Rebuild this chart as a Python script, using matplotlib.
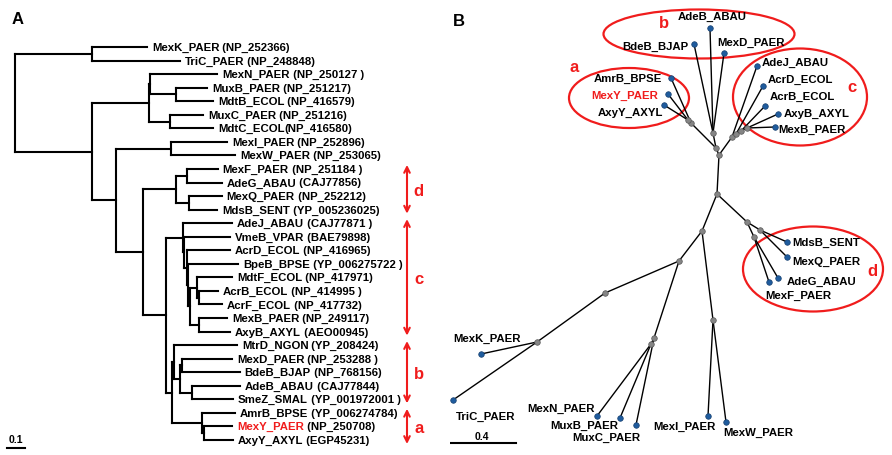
import matplotlib
matplotlib.use("Agg")
import matplotlib.pyplot as plt
from matplotlib.collections import LineCollection
from matplotlib.patches import Ellipse

plt.rcParams['font.family'] = ['Liberation Sans', 'DejaVu Sans']
plt.rcParams['font.weight'] = 'bold'

RED = '#f01c1c'
BLUE = '#1f5c9e'
GRAY = '#858585'
FS = 8.2

# ---------------- panel A data: rectangular tree ----------------
leaf_names = ["MexK_PAER", "TriC_PAER", "MexN_PAER", "MuxB_PAER", "MdtB_ECOL",
              "MuxC_PAER", "MdtC_ECOL", "MexI_PAER", "MexW_PAER", "MexF_PAER",
              "AdeG_ABAU", "MexQ_PAER", "MdsB_SENT", "AdeJ_ABAU", "VmeB_VPAR",
              "AcrD_ECOL", "BpeB_BPSE", "MdtF_ECOL", "AcrB_ECOL", "AcrF_ECOL",
              "MexB_PAER", "AxyB_AXYL", "MtrD_NGON", "MexD_PAER", "BdeB_BJAP",
              "AdeB_ABAU", "SmeZ_SMAL", "AmrB_BPSE", "MexY_PAER", "AxyY_AXYL"]
leaf_acc = [" (NP_252366)", " (NP_248848)", " (NP_250127 )", " (NP_251217)", " (NP_416579)",
            " (NP_251216)", "(NP_416580)", " (NP_252896)", " (NP_253065)", " (NP_251184 )",
            " (CAJ77856)", " (NP_252212)", " (YP_005236025)", " (CAJ77871 )", " (BAE79898)",
            " (NP_416965)", " (YP_006275722 )", " (NP_417971)", " (NP_414995 )", " (NP_417732)",
            " (NP_249117)", " (AEO00945)", " (YP_208424)", " (NP_253288 )", " (NP_768156)",
            " (CAJ77844)", " (YP_001972001 )", " (YP_006274784)", " (NP_250708)", " (EGP45231)"]
leaf_parent = ["K", "K", "N1", "MB", "MB", "MC", "MC", "IW", "IW", "FG",
               "FG", "QS", "QS", "c", "c1", "c2", "c3", "c5", "c6", "c6",
               "c7", "c7", "b", "b2", "b2", "b3", "b3", "a", "a1", "a1"]
leaf_length = [.306, .489, .372, .172, .206, .183, .239, .311, .356, .172,
               .194, .183, .156, .272, .256, .239, .278, .194, .106, .128,
               .156, .172, .350, .278, .322, .267, .228, .183, .156, .161]

clades = ["root", "K", "L", "N", "N1", "MB", "MC", "M", "IW", "D2", "d", "FG", "QS", "R",
          "c", "c1", "c2", "c3", "c4", "c5", "c6", "c7", "ba", "b", "b1", "b2", "b3", "a", "a1"]
clade_parent = [None, "root", "root", "L", "N", "N1", "N", "L", "M", "M", "D2", "d", "d", "D2",
                "R", "c", "c1", "c2", "c3", "c4", "c5", "c4", "R", "ba", "b", "b1", "b1", "ba", "a"]
clade_length = [0, .428, .428, .317, .006, .144, .117, .133, .306, .150, .183, .061, .072, .128,
                .094, .006, .017, .006, .011, .039, .011, .050, .033, .011, .033, .011, .067, .167, .011]

highlight = "MexY_PAER"
group_letters = ["d", "c", "b", "a"]
group_first = [9, 13, 22, 27]
group_last = [12, 21, 26, 29]

# ---------------- panel B data: unrooted tree layout ----------------
b_ids = ["a", "a1", "b", "ab", "abc", "c0", "c1", "c2", "c3", "r", "d0", "dQS", "dFG",
         "L", "IW", "K2", "N", "N2", "KT1", "KT2",
         "AdeB_ABAU", "BdeB_BJAP", "MexD_PAER", "AmrB_BPSE", "MexY_PAER", "AxyY_AXYL",
         "AdeJ_ABAU", "AcrD_ECOL", "AcrB_ECOL", "AxyB_AXYL", "MexB_PAER",
         "MdsB_SENT", "MexQ_PAER", "AdeG_ABAU", "MexF_PAER", "MexI_PAER", "MexW_PAER",
         "MexN_PAER", "MuxB_PAER", "MuxC_PAER", "MexK_PAER", "TriC_PAER"]
b_x = [691, 688, 713, 716, 719, 732, 736, 741, 747, 717, 747, 760, 754,
       702, 713, 679, 654, 651, 605, 537,
       710, 694, 724, 671, 668, 664,
       757, 763, 765, 778, 775,
       787, 787, 778, 769, 708, 726,
       597, 620, 636, 481, 453]
b_y = [124, 121, 134, 149, 156, 138, 135, 132, 129, 195, 223, 231, 238,
       232, 321, 262, 339, 345, 294, 343,
       29, 45, 54, 79, 95, 106,
       67, 87, 107, 115, 128,
       243, 258, 279, 283, 417, 423,
       417, 419, 426, 355, 401]
b_parent = ["ab", "a", "ab", "abc", "r", "abc", "c0", "c1", "c2", "", "r", "d0", "d0",
            "r", "L", "L", "K2", "N", "K2", "KT1",
            "b", "b", "b", "a", "a1", "a1",
            "c0", "c1", "c2", "c3", "c3",
            "dQS", "dQS", "dFG", "dFG", "IW", "IW",
            "N2", "N2", "N", "KT2", "KT2"]
n_internal = 20

b_label_x = [712, 688, 717, 662, 658, 663, 762, 768, 770, 784, 778,
             792, 792, 787, 765, 653, 723, 527, 550, 572, 453, 456]
b_label_y = [17, 47, 43, 79, 96, 113, 63, 80, 97, 114, 130,
             243, 262, 282, 296, 427, 433, 409, 426, 438, 339, 417]
b_label_ha = ["center", "right", "left", "right", "right", "right", "left", "left", "left", "left", "left",
              "left", "left", "left", "left", "left", "left", "left", "left", "left", "left", "left"]

ell_letters = ["a", "b", "c", "d"]
ell_cx = [629, 699, 800, 813]
ell_cy = [99, 35, 98, 270]
ell_w = [120, 191, 134, 140]
ell_h = [60, 49, 97, 85]
ell_letter_x = [574, 664, 852, 872]
ell_letter_y = [68, 24, 88, 272]

B_UNITS_PER_DIST = 172.5

fig = plt.figure(figsize=(8.92, 4.56), dpi=100)

# ---------------- panel A ----------------
axA = fig.add_axes([0, 0, 450 / 892, 1])
axA.set_xlim(-15 / 180, 435 / 180)
axA.set_ylim((456 - 48) / 13.55, -48 / 13.55)
axA.axis('off')

depth = {}
for cl, par, ln in zip(clades, clade_parent, clade_length):
    depth[cl] = 0.0 if par is None else depth[par] + ln
leaf_depth = [depth[p] + ln for p, ln in zip(leaf_parent, leaf_length)]

children = {cl: [] for cl in clades}
for i, p in enumerate(leaf_parent):
    children[p].append(('leaf', i))
for cl, p in zip(clades, clade_parent):
    if p is not None:
        children[p].append(('clade', cl))
ypos = {}
for cl in reversed(clades):
    ys = [ref if kind == 'leaf' else ypos[ref] for kind, ref in children[cl]]
    ypos[cl] = (min(ys) + max(ys)) / 2

segs = []
for cl, p in zip(clades, clade_parent):
    ys = [ref if kind == 'leaf' else ypos[ref] for kind, ref in children[cl]]
    segs.append([(depth[cl], min(ys)), (depth[cl], max(ys))])
    if p is not None:
        segs.append([(depth[p], ypos[cl]), (depth[cl], ypos[cl])])
for i, p in enumerate(leaf_parent):
    segs.append([(depth[p], i), (leaf_depth[i], i)])
axA.add_collection(LineCollection(segs, colors='black', linewidths=1.5, capstyle='projecting'))

for i, name in enumerate(leaf_names):
    t = axA.annotate(name, (leaf_depth[i], i), xytext=(3.5, 0), textcoords='offset points',
                     va='center', ha='left', fontsize=FS,
                     color=RED if name == highlight else 'black')
    axA.annotate(leaf_acc[i], xy=(1, 0.5), xycoords=t, va='center', ha='left', fontsize=FS)

arrow_x = 392 / 180
for letter, g0, g1 in zip(group_letters, group_first, group_last):
    axA.annotate('', xy=(arrow_x, g0 - 0.3), xytext=(arrow_x, g1 + 0.3),
                 arrowprops=dict(arrowstyle='<->', color=RED, lw=1.5,
                                 shrinkA=0, shrinkB=0, mutation_scale=10))
    axA.text(arrow_x + 0.065, (g0 + g1) / 2 + 0.1, letter, color=RED, fontsize=12,
             va='center', ha='center')

axA.plot([-0.044, -0.044 + 0.1], [29.6, 29.6], color='black', lw=1.5)
axA.text(-0.044 + 0.05, 28.95, "0.1", fontsize=7.5, ha='center', va='center')
axA.text(0.012, (20 - 48) / 13.55, "A", fontsize=12, ha='center', va='center')

# ---------------- panel B ----------------
axB = fig.add_axes([450 / 892, 0, 442 / 892, 1])
axB.set_xlim(450, 892)
axB.set_ylim(456, 0)
axB.axis('off')

idx = {n: i for i, n in enumerate(b_ids)}
bsegs = []
for i, p in enumerate(b_parent):
    if p:
        j = idx[p]
        bsegs.append([(b_x[j], b_y[j]), (b_x[i], b_y[i])])
axB.add_collection(LineCollection(bsegs, colors='black', linewidths=1.0))

axB.scatter(b_x[:n_internal], b_y[:n_internal], s=16, color=GRAY,
            edgecolors='#555555', linewidths=0.5, zorder=3)
axB.scatter(b_x[n_internal:], b_y[n_internal:], s=16, color=BLUE,
            edgecolors='#163f6e', linewidths=0.5, zorder=3)

for k, name in enumerate(b_ids[n_internal:]):
    axB.text(b_label_x[k], b_label_y[k], name, fontsize=FS, ha=b_label_ha[k], va='center',
             color=RED if name == highlight else 'black')

for k in range(len(ell_letters)):
    axB.add_patch(Ellipse((ell_cx[k], ell_cy[k]), ell_w[k], ell_h[k], fill=False,
                          edgecolor=RED, lw=1.6))
    axB.text(ell_letter_x[k], ell_letter_y[k], ell_letters[k], color=RED, fontsize=12,
             ha='center', va='center')

bar = 0.4 * B_UNITS_PER_DIST
axB.plot([447, 447 + bar], [444, 444], color='black', lw=1.5)
axB.text(447 + bar / 2, 437, "0.4", fontsize=7.5, ha='center', va='center')
axB.text(459, 22, "B", fontsize=12, ha='center', va='center')

fig.savefig("out.png", dpi=100)
